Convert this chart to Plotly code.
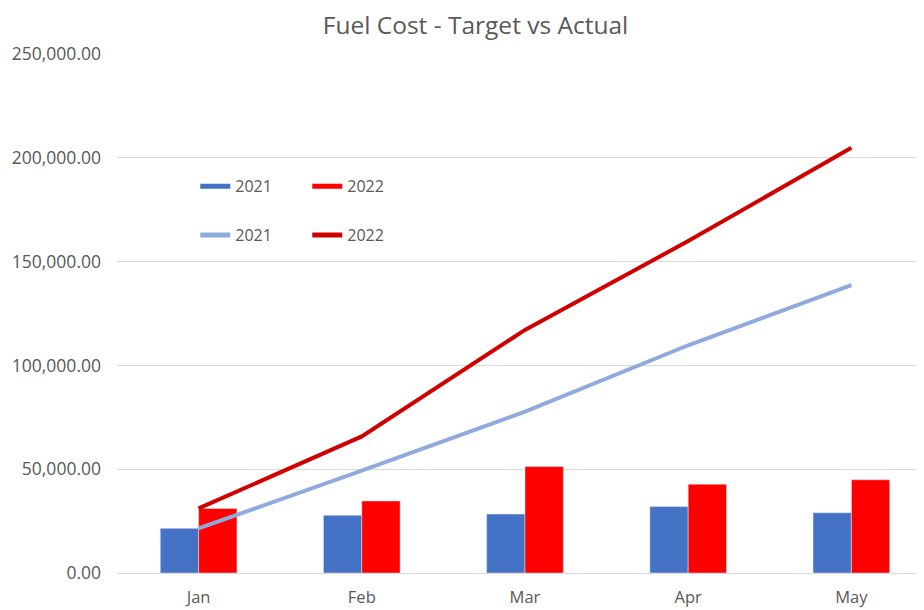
import plotly.graph_objects as go

months = ["Jan", "Feb", "Mar", "Apr", "May"]
actual_2021 = [21500, 27800, 28400, 32000, 29000]
actual_2022 = [31100, 34700, 51300, 42800, 44900]
cum_2021 = [21500, 49300, 77700, 109700, 138700]
cum_2022 = [31100, 65800, 117100, 159900, 204800]
y_ticks = [0, 50000, 100000, 150000, 200000, 250000]

C_BAR21 = "#4472C4"
C_BAR22 = "#FF0000"
C_LINE21 = "#8FAADC"
C_LINE22 = "#D00000"
FONT = "Open Sans"
TXT = "#595959"

fig = go.Figure()
fig.add_trace(go.Bar(x=months, y=actual_2021, marker_color=C_BAR21, showlegend=False, name="2021"))
fig.add_trace(go.Bar(x=months, y=actual_2022, marker_color=C_BAR22, showlegend=False, name="2022"))
fig.add_trace(go.Scatter(x=months, y=cum_2021, mode="lines", line=dict(color=C_LINE21, width=4),
                         name="2021", legend="legend2"))
fig.add_trace(go.Scatter(x=months, y=cum_2022, mode="lines", line=dict(color=C_LINE22, width=4),
                         name="2022", legend="legend2"))
# legend swatches for the bar series (wide rectangles)
fig.add_trace(go.Scatter(x=[None], y=[None], mode="lines", line=dict(color=C_BAR21, width=11),
                         name="2021", legend="legend"))
fig.add_trace(go.Scatter(x=[None], y=[None], mode="lines", line=dict(color=C_BAR22, width=11),
                         name="2022", legend="legend"))

leg_common = dict(orientation="h", xanchor="left", yanchor="middle", bgcolor="rgba(0,0,0,0)",
                  font=dict(family=FONT, size=16, color=TXT), entrywidth=67, itemsizing="constant")
fig.update_layout(
    width=924, height=610,
    margin=dict(l=109, r=8, t=46, b=45, autoexpand=False),
    paper_bgcolor="white", plot_bgcolor="white",
    barmode="group", bargap=0.53, bargroupgap=0,
    title=dict(text="Fuel Cost - Target vs Actual", x=0.506, xanchor="center", y=0.9721, yanchor="middle",
               font=dict(family=FONT, size=24.5, color=TXT)),
    font=dict(family=FONT, size=16, color=TXT),
    legend=dict(x=0.097, y=0.745, **leg_common),
    legend2=dict(x=0.097, y=0.651, **leg_common),
    xaxis=dict(range=[-0.5, 4.445], showgrid=False, showline=True, linecolor="#D9D9D9", linewidth=1,
               automargin=False,
               ticks="", ticklabelstandoff=9, tickfont=dict(family=FONT, size=16.5, color=TXT)),
    yaxis=dict(range=[0, 250000], tickvals=y_ticks, tickformat=",.2f", showgrid=True, gridcolor="#D9D9D9",
               automargin=False,
               zeroline=False, showline=False, ticks="", ticklabelstandoff=15,
               tickfont=dict(family=FONT, size=17.5, color=TXT)),
)
fig.write_html("out.html")
